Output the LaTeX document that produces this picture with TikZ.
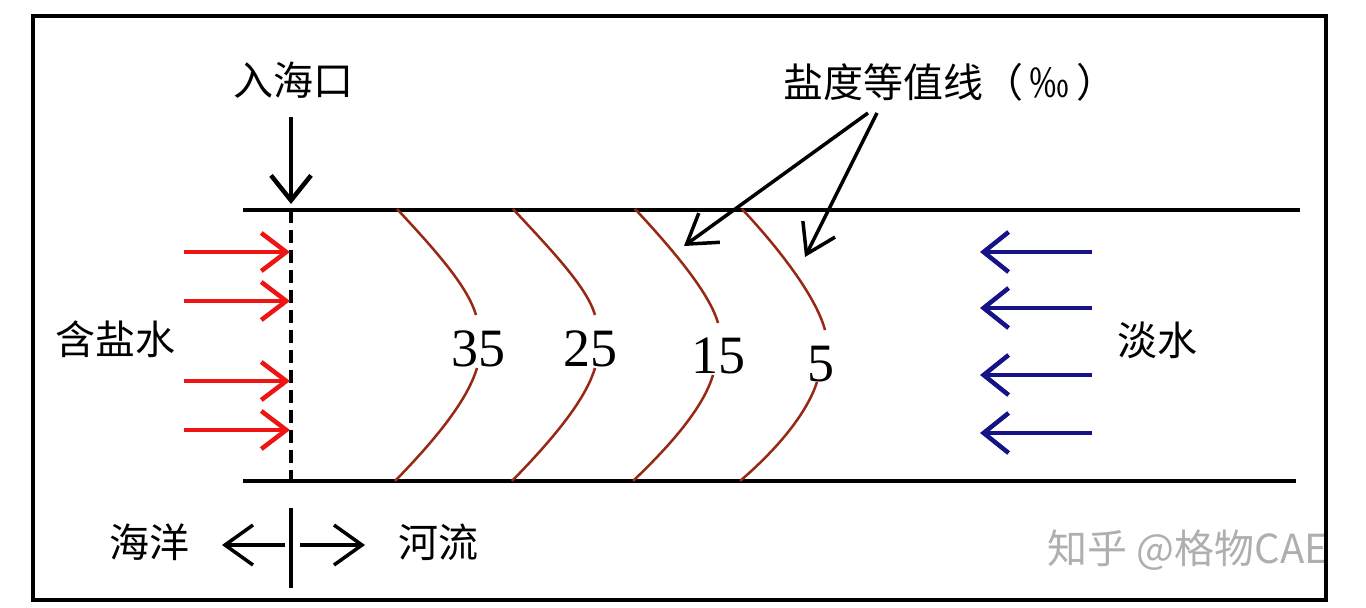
\documentclass[tikz,border=0pt]{standalone}
\usepackage{fontspec}
\setmainfont{Liberation Serif}
\newfontfamily\cjk{Noto Sans CJK SC}
\usetikzlibrary{arrows.meta}
\definecolor{saltred}{RGB}{238,20,20}
\definecolor{freshblue}{RGB}{20,20,135}
\definecolor{isoline}{RGB}{150,40,20}
\definecolor{wmgray}{RGB}{175,175,178}
\tikzset{
  cjklabel/.style={font=\cjk\fontsize{40}{40}\selectfont, inner sep=0pt},
  numlabel/.style={font=\fontsize{54}{54}\selectfont, inner sep=0pt},
  redarrow/.style={draw=saltred, line width=4.5pt, -{Straight Barb[length=25pt,width=38pt,line width=4.5pt]}},
  bluearrow/.style={draw=freshblue, line width=4.5pt, -{Straight Barb[length=25pt,width=40pt,line width=4.5pt]}},
  blackarrow/.style={draw=black, line width=4.5pt, -{Straight Barb[length=25pt,width=40pt,line width=4.5pt]}},
  callout/.style={draw=black, line width=3.5pt, -{Straight Barb[length=28pt,width=36pt,line width=3.5pt]}},
  smallarrow/.style={draw=black, line width=3.5pt, -{Straight Barb[length=28pt,width=40pt,line width=3.5pt]}},
  bank/.style={draw=black, line width=3.5pt},
  iso/.style={draw=isoline, line width=2.5pt},
}
\begin{document}
\begin{tikzpicture}[x=1pt,y=-1pt]
\useasboundingbox (0,0) rectangle (1366,608);
\fill[white] (0,0) rectangle (1366,608);

% watermark
\node[font=\cjk\fontsize{40}{40}\selectfont, text=wmgray, inner sep=0pt] (wm) at (1188,550) {知乎 @格物CAE};

% frame
\draw[line width=4.5pt] (33,16) rectangle (1326,600);

% banks
\coordinate (tl) at (243,210); \coordinate (tr) at (1300,210);
\coordinate (bl) at (243,481); \coordinate (br) at (1296,481);
\draw[bank] (tl) -- (tr);
\draw[bank] (bl) -- (br);

% estuary mouth
\coordinate (mtop) at (291,210); \coordinate (mbot) at (291,481);
\draw[line width=3.5pt, dash pattern=on 13pt off 7pt] (mtop) -- (mbot);
\node[cjklabel] (mouth) at (293,80) {入海口};
\coordinate (ma) at (291,117); \coordinate (mb) at (291,204);
\draw[blackarrow] (ma) -- (mb);

% saline water
\node[cjklabel] (salt) at (115,339) {含盐水};
\foreach \i/\y in {1/252,2/301,3/381,4/430}{
  \coordinate (rs\i) at (184,\y); \coordinate (re\i) at (290,\y);
  \draw[redarrow] (rs\i) -- (re\i);
}

% fresh water
\node[cjklabel] (fresh) at (1157,340) {淡水};
\foreach \i/\y in {1/252,2/308,3/375,4/433}{
  \coordinate (bs\i) at (1092,\y); \coordinate (be\i) at (980,\y);
  \draw[bluearrow] (bs\i) -- (be\i);
}

% isohalines
\node[numlabel] (n35) at (478,349) {35};
\node[numlabel] (n25) at (590,349) {25};
\node[numlabel] (n15) at (718,356) {15};
\node[numlabel] (n5)  at (821,364) {5};

\draw[iso] (397,209) .. controls (440,255) and (468,288) .. (476,315);
\draw[iso] (477,368) .. controls (468,398) and (440,435) .. (395,481);
\draw[iso] (513,209) .. controls (556,255) and (587,288) .. (595,315);
\draw[iso] (595,368) .. controls (586,398) and (557,435) .. (512,481);
\draw[iso] (635,209) .. controls (678,255) and (710,295) .. (718,323);
\draw[iso] (713,375) .. controls (704,405) and (676,440) .. (633,481);
\draw[iso] (742,209) .. controls (785,255) and (817,300) .. (825,330);
\draw[iso] (817,382) .. controls (808,410) and (782,445) .. (740,481);

% title and callouts
\node[cjklabel] (title) at (950,82) {盐度等值线（\,‰\,）};
\coordinate (c1s) at (868,113); \coordinate (c1e) at (684,246);
\coordinate (c2s) at (877,113); \coordinate (c2e) at (805,257);
\draw[callout] (c1s) -- (c1e);
\draw[callout] (c2s) -- (c2e);

% ocean / river
\coordinate (vt) at (291,508); \coordinate (vb) at (291,588);
\draw[line width=3.5pt] (vt) -- (vb);
\node[cjklabel] (ocean) at (149,542) {海洋};
\node[cjklabel] (river) at (438,542) {河流};
\coordinate (la) at (285,545); \coordinate (lb) at (222,545);
\coordinate (ra) at (300,545); \coordinate (rb) at (365,545);
\draw[smallarrow] (la) -- (lb);
\draw[smallarrow] (ra) -- (rb);
\end{tikzpicture}
\end{document}
